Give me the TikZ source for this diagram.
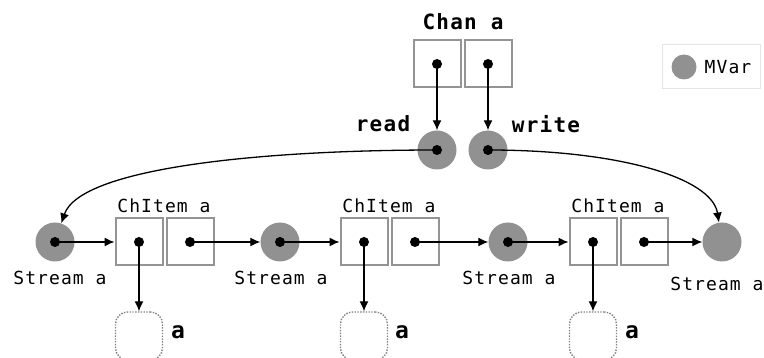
\documentclass[tikz,border=0pt]{standalone}
\usepackage{fontspec}
\newfontfamily\codefont[LetterSpace=6]{DejaVu Sans Mono}
\usetikzlibrary{arrows.meta,positioning}

\definecolor{cellgray}{gray}{0.58}
\definecolor{mvargray}{gray}{0.57}

\begin{document}
\begin{tikzpicture}[x=1pt, y=-1pt,
  cell/.style={draw=cellgray, line width=2pt, minimum size=47pt, inner sep=0pt},
  mvar/.style={circle, fill=mvargray, minimum size=39pt, inner sep=0pt},
  ptr/.style={circle, fill=black, minimum size=10pt, inner sep=0pt},
  val/.style={draw=gray, line width=1.4pt, dash pattern=on 1.4pt off 1.4pt, rounded corners=12pt, minimum width=47pt, minimum height=48pt},
  lbl/.style={font=\codefont\fontsize{18}{20}\selectfont, inner sep=1pt},
  bold/.style={font=\codefont\bfseries\fontsize{21}{24}\selectfont, inner sep=1pt},
  arr/.style={-{Latex[length=10pt, width=9pt]}, line width=1.3pt}
]
\useasboundingbox (0,0) rectangle (764,358);

% the channel record
\node[cell] (chr) at (437,64) {};
\node[cell, right=2pt of chr] (chw) {};
\node[bold] (chan) at (463,22) {Chan a};
\node[ptr] (chrp) at (chr) {};
\node[ptr] (chwp) at (chw) {};

% read and write ends
\node[mvar] (rd) at (437,150) {};
\node[mvar] (wr) at (488,150) {};
\node[ptr] (rdp) at (rd) {};
\node[ptr] (wrp) at (wr) {};
\node[bold] at (383,124) {read};
\node[bold] at (546,124) {write};

% legend
\draw[draw=gray!20] (662,44) rectangle (760,88);
\node[circle, fill=mvargray, minimum size=25pt, inner sep=0pt] (key) at (684,67) {};
\node[lbl] at (728,67) {MVar};

% stream of items
\node[mvar] (s1) at (55,242) {};
\node[cell] (i1a) at (139,242) {};
\node[cell, right=2pt of i1a] (i1b) {};
\node[mvar] (s2) at (280,242) {};
\node[cell] (i2a) at (364,242) {};
\node[cell, right=2pt of i2a] (i2b) {};
\node[mvar] (s3) at (508,242) {};
\node[cell] (i3a) at (593,242) {};
\node[cell, right=2pt of i3a] (i3b) {};
\node[mvar] (s4) at (722,242) {};

\foreach \n in {s1,s2,s3,i1a,i1b,i2a,i2b,i3a,i3b}
  \node[ptr] (\n p) at (\n) {};

\node[lbl] at (60,278) {Stream a};
\node[lbl] at (281,278) {Stream a};
\node[lbl] at (509,278) {Stream a};
\node[lbl] at (717,284) {Stream a};

\node[lbl] at (164,206) {ChItem a};
\node[lbl] at (389,206) {ChItem a};
\node[lbl] at (618,206) {ChItem a};

% values held by the items
\node[val] (v1) at (139,336) {};
\node[val] (v2) at (364,336) {};
\node[val] (v3) at (593,336) {};
\node[bold, font=\codefont\bfseries\fontsize{23}{26}\selectfont] at (178,332) {a};
\node[bold, font=\codefont\bfseries\fontsize{23}{26}\selectfont] at (402,332) {a};
\node[bold, font=\codefont\bfseries\fontsize{23}{26}\selectfont] at (632,332) {a};

% pointers
\draw[arr] (chrp.center) -- (rd);
\draw[arr] (chwp.center) -- (wr);
\draw[arr] (rdp.center) .. controls (260,150) and (80,168) .. (s1);
\draw[arr] (wrp.center) .. controls (620,150) and (712,178) .. (s4);

\draw[arr] (s1p.center) -- (i1a);
\draw[arr] (i1bp.center) -- (s2);
\draw[arr] (s2p.center) -- (i2a);
\draw[arr] (i2bp.center) -- (s3);
\draw[arr] (s3p.center) -- (i3a);
\draw[arr] (i3bp.center) -- (s4);

\draw[arr] (i1ap.center) -- (v1);
\draw[arr] (i2ap.center) -- (v2);
\draw[arr] (i3ap.center) -- (v3);
\end{tikzpicture}
\end{document}
